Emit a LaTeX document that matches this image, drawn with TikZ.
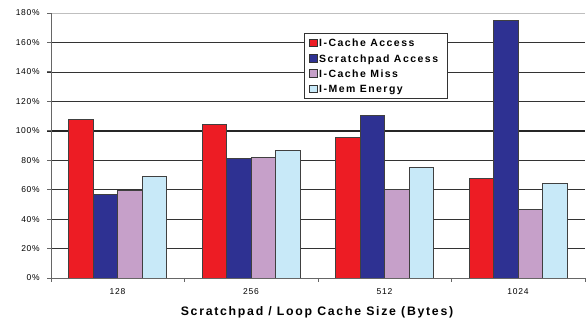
\documentclass[tikz,border=0pt]{standalone}
\usepackage{fontspec}
\setmainfont{Liberation Sans}
\newfontfamily\spacedfont[LetterSpace=9]{Liberation Sans}
\newfontfamily\widefont[LetterSpace=14]{Liberation Sans}
\usepackage{tikz}
\usetikzlibrary{positioning}

\definecolor{icacc}{HTML}{ED1C24}
\definecolor{spacc}{HTML}{2E3192}
\definecolor{icmiss}{HTML}{C6A0C9}
\definecolor{imem}{HTML}{C8E9F8}

\begin{document}
\begin{tikzpicture}[x=1pt,y=1pt,font=\spacedfont\fontsize{8.5}{10}\selectfont]
\tikzstyle{grid line}=[draw=black!80,line width=0.7pt]
\tikzstyle{bar}=[draw=black!75,line width=0.6pt]
\tikzstyle{tick label}=[anchor=east,inner sep=0pt]
\tikzstyle{legend entry}=[anchor=base west,inner sep=0pt,font=\widefont\bfseries\fontsize{10.5}{12}\selectfont]
\tikzstyle{legend key}=[draw=black!80,line width=0.5pt,minimum width=7.5pt,minimum height=7.5pt,inner sep=0pt]
\useasboundingbox (0,0) rectangle (587,323);
\begin{scope}[shift={(51,45)},y=1.4722pt]
% gridlines and y labels
\foreach \v in {20,40,...,160}
  \draw[grid line] (-4,\v) -- (534,\v);
\draw[black!25,line width=0.8pt] (0,180) -- (534,180);
\draw[black!85,line width=2pt] (-4,100) -- (534,100);
\foreach \v [count=\i] in {0,20,...,180}
  \node[tick label] (ylab\i) at (-11,\v) {\v\%};
\draw[black!60,line width=0.8pt] (0,0) -- (0,180);
\foreach \v in {0,20,...,180}
  \draw[black!60,line width=0.8pt] (-4,\v) -- (0,\v);
% bars
\foreach \a/\b/\c/\d/\lab [count=\g from 0] in {108/57/59.5/69/128,104.6/81.5/82.2/87/256,95.6/110.2/60/75.4/512,67.5/174.8/47/64.6/1024}{
  \pgfmathsetmacro{\xo}{17.5+133.5*\g}
  \fill[icacc] (\xo,0) rectangle ++(24.5,\a);
  \draw[bar] (\xo,0) rectangle ++(24.5,\a);
  \fill[spacc] (\xo+24.5,0) rectangle ++(24.5,\b);
  \draw[bar] (\xo+24.5,0) rectangle ++(24.5,\b);
  \fill[icmiss] (\xo+49,0) rectangle ++(24.5,\c);
  \draw[bar] (\xo+49,0) rectangle ++(24.5,\c);
  \fill[imem] (\xo+73.5,0) rectangle ++(24.5,\d);
  \draw[bar] (\xo+73.5,0) rectangle ++(24.5,\d);
  \node (xlab\g) at (\xo+49,-9.5) {\lab};
}
% x axis
\draw[black!60,line width=0.8pt] (0,0) -- (534,0);
\foreach \t in {0,133.5,267,400.5,534}
  \draw[black!60,line width=0.8pt] (\t,0) -- (\t,-2.5);
\node[font=\widefont\bfseries\fontsize{12.3}{14}\selectfont] (xtitle) at (266,-23.5) {Scratchpad / Loop Cache Size (Bytes)};
\end{scope}
% legend
\node[draw=black!80,line width=0.7pt,fill=white,minimum width=143pt,minimum height=65pt] (legend) at (375.5,257.5) {};
\node[legend key,fill=icacc] (k1) at (313,280.3) {};
\node[legend key,fill=spacc,below=15.4pt of k1.center,anchor=center] (k2) {};
\node[legend key,fill=icmiss,below=15.4pt of k2.center,anchor=center] (k3) {};
\node[legend key,fill=imem,below=15.4pt of k3.center,anchor=center] (k4) {};
\node[legend entry] (l1) at ([xshift=2pt]k1.south east) {I-Cache Access};
\node[legend entry] (l2) at ([xshift=2pt]k2.south east) {Scratchpad Access};
\node[legend entry] (l3) at ([xshift=2pt]k3.south east) {I-Cache Miss};
\node[legend entry] (l4) at ([xshift=2pt]k4.south east) {I-Mem Energy};
\end{tikzpicture}
\end{document}
